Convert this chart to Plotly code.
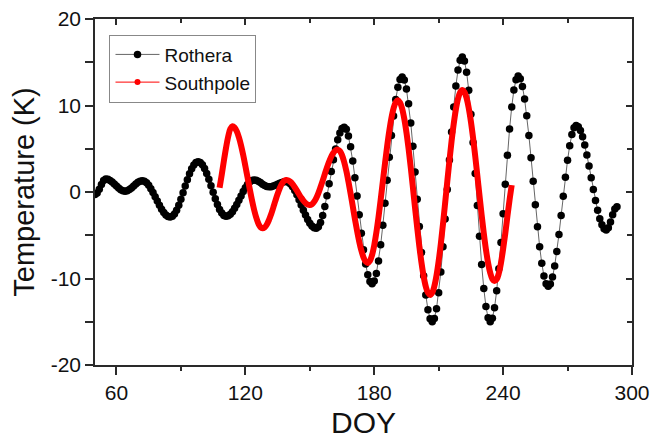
import plotly.graph_objects as go

# ---- data ----
rothera_doy = list(range(50, 294))
rothera_temp = [
    -0.30, -0.13, 0.32, 0.88, 1.33, 1.50, 1.46, 1.34, 1.15, 0.92,      # 50-59
    0.68, 0.45, 0.26, 0.14, 0.10, 0.15, 0.28, 0.47, 0.70, 0.93,        # 60-69
    1.12, 1.25, 1.30, 1.24, 1.06, 0.77, 0.39, -0.06, -0.55, -1.05,     # 70-79
    -1.54, -1.99, -2.37, -2.66, -2.84, -2.90, -2.81, -2.53, -2.10, -1.52,  # 80-89
    -0.83, -0.09, 0.69, 1.43, 2.12, 2.70, 3.13, 3.41, 3.50, 3.41,      # 90-99
    3.14, 2.71, 2.14, 1.47, 0.73, -0.03, -0.77, -1.44, -2.01, -2.44,   # 100-109
    -2.71, -2.80, -2.74, -2.56, -2.27, -1.89, -1.44, -0.95, -0.45, 0.05,  # 110-119
    0.49, 0.87, 1.16, 1.34, 1.40, 1.36, 1.25, 1.09, 0.91, 0.75,        # 120-129
    0.64, 0.60, 0.62, 0.69, 0.79, 0.90, 1.01, 1.11, 1.18, 1.20,        # 130-139
    1.13, 0.93, 0.61, 0.18, -0.33, -0.90, -1.50, -2.10, -2.67, -3.18,  # 140-149
    -3.61, -3.93, -4.13, -4.20, -4.03, -3.53, -2.73, -1.67, -0.42, 0.94,  # 150-159
    2.36, 3.72, 4.97, 6.03, 6.83, 7.33, 7.50, 7.24, 6.46, 5.22,        # 160-169
    3.59, 1.66, -0.46, -2.64, -4.76, -6.69, -8.33, -9.57, -10.34, -10.60,  # 170-179
    -10.30, -9.42, -7.99, -6.10, -3.83, -1.31, 1.35, 4.01, 6.53, 8.80,  # 180-189
    10.69, 12.12, 13.00, 13.30, 12.95, 11.90, 10.21, 7.97, 5.29, 2.30,  # 190-199
    -0.85, -4.00, -6.99, -9.67, -11.91, -13.60, -14.65, -15.00, -14.62, -13.49,  # 200-209
    -11.66, -9.24, -6.34, -3.11, 0.30, 3.71, 6.94, 9.84, 12.26, 14.09,  # 210-219
    15.22, 15.60, 15.15, 13.85, 11.75, 8.99, 5.73, 2.15, -1.55, -5.13,  # 220-229
    -8.39, -11.15, -13.25, -14.55, -15.00, -14.59, -13.38, -11.43, -8.87, -5.84,  # 230-239
    -2.51, 0.91, 4.24, 7.27, 9.83, 11.78, 12.99, 13.40, 13.10, 12.20,  # 240-249
    10.75, 8.82, 6.52, 3.96, 1.25, -1.46, -4.02, -6.32, -8.25, -9.70,  # 250-259
    -10.60, -10.90, -10.63, -9.84, -8.56, -6.88, -4.90, -2.72, -0.48, 1.70,  # 260-269
    3.68, 5.36, 6.64, 7.43, 7.70, 7.55, 7.10, 6.38, 5.42, 4.27,        # 270-279
    3.00, 1.65, 0.30, -0.97, -2.12, -3.08, -3.80, -4.25, -4.40, -4.14,  # 280-289
    -3.47, -2.63, -1.96, -1.70,                                        # 290-293
]

southpole_doy = list(range(108, 245))
southpole_temp = [
    0.50, 2.00, 3.60, 5.10, 6.40, 7.30, 7.60, 7.45, 7.02, 6.31,        # 108-117
    5.38, 4.26, 3.01, 1.70, 0.39, -0.86, -1.98, -2.91, -3.62, -4.05,   # 118-127
    -4.20, -4.09, -3.76, -3.23, -2.56, -1.80, -1.00, -0.24, 0.43, 0.96,  # 128-137
    1.29, 1.40, 1.34, 1.17, 0.90, 0.55, 0.16, -0.26, -0.65, -1.00,     # 138-147
    -1.27, -1.44, -1.50, -1.41, -1.13, -0.70, -0.12, 0.57, 1.31, 2.09,  # 148-157
    2.84, 3.52, 4.10, 4.53, 4.81, 4.90, 4.74, 4.25, 3.47, 2.43,        # 158-167
    1.19, -0.19, -1.65, -3.11, -4.49, -5.73, -6.77, -7.55, -8.04, -8.20,  # 168-177
    -7.97, -7.27, -6.15, -4.66, -2.88, -0.89, 1.20, 3.29, 5.28, 7.06,  # 178-187
    8.55, 9.67, 10.37, 10.60, 10.35, 9.63, 8.45, 6.88, 4.98, 2.83,     # 188-197
    0.53, -1.83, -4.13, -6.28, -8.18, -9.75, -10.93, -11.65, -11.90, -11.64,  # 198-207
    -10.88, -9.64, -7.98, -5.98, -3.71, -1.29, 1.19, 3.61, 5.88, 7.88,  # 208-217
    9.54, 10.78, 11.54, 11.80, 11.56, 10.85, 9.69, 8.15, 6.28, 4.16,   # 218-227
    1.91, -0.41, -2.66, -4.78, -6.65, -8.19, -9.35, -10.06, -10.30, -10.10,  # 228-237
    -9.40, -8.20, -6.60, -4.80, -2.80, -0.90, 0.80,                    # 238-244
]

x_tickvals = [60, 120, 180, 240, 300]
x_ticktext = ["60", "120", "180", "240", "300"]
x_minor = [90, 150, 210, 270]
y_tickvals = [-20, -10, 0, 10, 20]
y_ticktext = ["-20", "-10", "0", "10", "20"]
y_minor = [-15, -5, 5, 15]

FONT = "Liberation Sans, Arial, sans-serif"
AX = "#2a2a2a"

fig = go.Figure()

fig.add_trace(go.Scatter(
    x=rothera_doy, y=rothera_temp, name="Rothera", mode="lines+markers",
    line=dict(color="#666666", width=1),
    marker=dict(color="black", size=7.5),
))
fig.add_trace(go.Scatter(
    x=southpole_doy, y=southpole_temp, name="Southpole", mode="lines",
    line=dict(color="#ff0000", width=6, shape="spline"),
    showlegend=False,
))
# legend entry for Southpole (thin line + dot, like the reference legend)
fig.add_trace(go.Scatter(
    x=[None], y=[None], name="Southpole", mode="lines+markers",
    line=dict(color="#ff0000", width=1),
    marker=dict(color="#ff0000", size=6),
    xaxis="x2", yaxis="y2",
))

common = dict(showgrid=False, zeroline=False, linecolor=AX, linewidth=1.5,
              tickcolor=AX, tickwidth=1.5,
              tickfont=dict(family=FONT, size=21, color="#111111"))

fig.update_layout(
    width=654, height=439,
    margin=dict(l=95, r=22, t=19, b=74, autoexpand=False),
    paper_bgcolor="white", plot_bgcolor="white",
    showlegend=True,
    legend=dict(x=0.027, y=0.955, xanchor="left", yanchor="top",
                bgcolor="white", bordercolor="#888888", borderwidth=1,
                font=dict(family=FONT, size=19, color="#111111"),
                tracegroupgap=0, itemwidth=44),
    xaxis=dict(range=[50, 300], tickmode="array", tickvals=x_tickvals,
               ticktext=x_ticktext, ticks="outside", ticklen=8, showline=True,
               minor=dict(tickmode="array", tickvals=x_minor, ticks="outside",
                          ticklen=4, tickwidth=1.5, tickcolor=AX),
               title=dict(text="DOY", font=dict(family=FONT, size=30, color="#111111"),
                          standoff=16),
               automargin=False, **common),
    yaxis=dict(range=[-20, 20], tickmode="array", tickvals=y_tickvals,
               ticktext=y_ticktext, ticks="outside", ticklen=8, showline=True,
               minor=dict(tickmode="array", tickvals=y_minor, ticks="outside",
                          ticklen=8, tickwidth=1.5, tickcolor=AX),
               title=dict(text="Temperature (K)",
                          font=dict(family=FONT, size=29, color="#111111"),
                          standoff=8),
               automargin=False, **common),
    xaxis2=dict(range=[50, 300], overlaying="x", side="top", anchor="y",
                tickmode="array", tickvals=x_tickvals, ticks="inside", ticklen=6,
                showticklabels=False, showline=True,
                minor=dict(tickmode="array", tickvals=x_minor, ticks="inside",
                           ticklen=4, tickwidth=1.5, tickcolor=AX),
                **{k: v for k, v in common.items() if k != "tickfont"}),
    yaxis2=dict(range=[-20, 20], overlaying="y", side="right", anchor="x",
                tickmode="array", tickvals=y_tickvals, ticks="inside", ticklen=6,
                showticklabels=False, showline=True,
                minor=dict(tickmode="array", tickvals=y_minor, ticks="inside",
                           ticklen=5, tickwidth=1.5, tickcolor=AX),
                **{k: v for k, v in common.items() if k != "tickfont"}),
)

fig.write_html("out.html")
